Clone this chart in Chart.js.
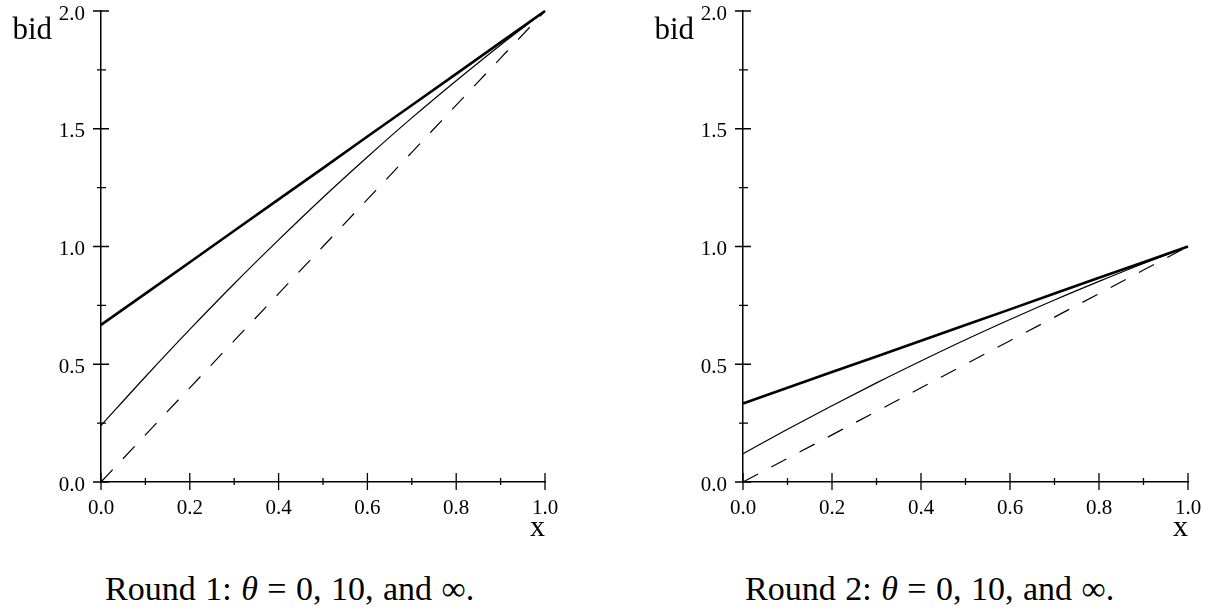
<!DOCTYPE html>
<html>
<head>
<meta charset="utf-8">
<script src="https://cdn.jsdelivr.net/npm/chart.js@4"></script>
<style>
  body { margin: 0; background: #fff; overflow: hidden; width: 1221px; height: 614px; position: relative; }
  canvas { position: absolute; top: 0; }
  .cap { position: absolute; top: 570px; font-family: "Liberation Serif", serif; font-size: 34px; word-spacing: 1px; color: #000; white-space: nowrap; }
</style>
</head>
<body>
<canvas id="round1" width="600" height="560" style="left:0"></canvas>
<canvas id="round2" width="579" height="560" style="left:642px"></canvas>
<div class="cap" style="left:105px">Round 1: <i>θ</i> = 0, 10, and ∞.</div>
<div class="cap" style="left:745px">Round 2: <i>θ</i> = 0, 10, and ∞.</div>
<script>
// values
const xs = [0, 0.1, 0.2, 0.3, 0.4, 0.5, 0.6, 0.7, 0.8, 0.9, 1.0];

// Round 1
const r1Inf = [0.667, 0.8, 0.933, 1.067, 1.2, 1.333, 1.467, 1.6, 1.733, 1.867, 2.0];
const r1Ten = [0.24, 0.447, 0.648, 0.842, 1.028, 1.208, 1.38, 1.546, 1.704, 1.856, 2.0];
const r1Zero = [0, 0.2, 0.4, 0.6, 0.8, 1.0, 1.2, 1.4, 1.6, 1.8, 2.0];

// Round 2
const r2Inf = [0.333, 0.4, 0.467, 0.533, 0.6, 0.667, 0.733, 0.8, 0.867, 0.933, 1.0];
const r2Ten = [0.12, 0.224, 0.324, 0.421, 0.514, 0.604, 0.69, 0.773, 0.852, 0.928, 1.0];
const r2Zero = [0, 0.1, 0.2, 0.3, 0.4, 0.5, 0.6, 0.7, 0.8, 0.9, 1.0];

const xTicks = [0, 0.2, 0.4, 0.6, 0.8, 1.0];
const yTicks = [0, 0.5, 1.0, 1.5, 2.0];
const xTitle = "x";
const yTitle = "bid";

Chart.defaults.font.family = "'Liberation Serif', serif";
Chart.defaults.font.size = 21;
Chart.defaults.color = "#000";

const pts = (ys) => xs.map((x, i) => ({ x: x, y: ys[i] }));

// ticks crossing the axes + the "bid" label
const axisTicks = {
  id: "axisTicks",
  afterDraw(chart) {
    const { ctx, chartArea, scales: { x, y } } = chart;
    const x0 = x.getPixelForValue(0);
    const y0 = y.getPixelForValue(0);
    ctx.save();
    ctx.strokeStyle = "#000";
    ctx.lineWidth = 1.3;
    ctx.beginPath();
    for (let i = 0; i <= 10; i++) {
      const px = x.getPixelForValue(i / 10);
      const major = i % 2 === 0;
      ctx.moveTo(px, y0 - (major ? 9 : 4));
      ctx.lineTo(px, y0 + (major ? 8 : 3));
    }
    for (let i = 0; i <= 8; i++) {
      const py = y.getPixelForValue(i / 4);
      const major = i % 2 === 0;
      ctx.moveTo(x0 - (major ? 8 : 4), py);
      ctx.lineTo(x0 + (major ? 8 : 5), py);
    }
    ctx.stroke();

    ctx.font = "31px 'Liberation Serif'";
    ctx.fillStyle = "#000";
    ctx.textAlign = "right";
    ctx.textBaseline = "alphabetic";
    ctx.fillText(yTitle, chartArea.left - 49, chartArea.top + 28);
    ctx.restore();
  },
};

function makeChart(id, inf, ten, zero, yMax, padRight) {
  return new Chart(document.getElementById(id), {
    type: "line",
    data: {
      datasets: [
        { data: pts(inf), borderColor: "#000", borderWidth: 2.6, pointRadius: 0, clip: false },
        { data: pts(ten), borderColor: "#000", borderWidth: 1.2, pointRadius: 0, cubicInterpolationMode: "monotone", clip: false },
        { data: pts(zero), borderColor: "#000", borderWidth: 1.2, borderDash: [17, 15], pointRadius: 0, clip: false },
      ],
    },
    options: {
      responsive: false,
      animation: false,
      layout: { padding: { top: 11, right: padRight, bottom: 0, left: 0 } },
      plugins: { legend: { display: false }, tooltip: { enabled: false } },
      scales: {
        x: {
          type: "linear",
          min: 0,
          max: 1,
          afterBuildTicks: (s) => { s.ticks = xTicks.map((v) => ({ value: v })); },
          afterFit: (s) => { s.height = 78; s.paddingLeft = 0; s.paddingRight = 0; },
          ticks: { padding: 14, maxRotation: 0, callback: (v) => v.toFixed(1) },
          grid: { display: false, drawTicks: false },
          border: { display: true, color: "#000", width: 1.5 },
          title: { display: true, text: xTitle, align: "end", font: { size: 30 }, padding: { top: 0, bottom: 14 } },
        },
        y: {
          min: 0,
          max: yMax,
          afterBuildTicks: (s) => { s.ticks = yTicks.map((v) => ({ value: v })); },
          afterFit: (s) => { s.width = 101; s.paddingTop = 0; s.paddingBottom = 0; },
          ticks: { padding: 16, labelOffset: 3, callback: (v) => v.toFixed(1) },
          grid: { display: false, drawTicks: false },
          border: { display: true, color: "#000", width: 1.5 },
        },
      },
    },
    plugins: [axisTicks],
  });
}

makeChart("round1", r1Inf, r1Ten, r1Zero, 2, 55);
makeChart("round2", r2Inf, r2Ten, r2Zero, 2, 33);
</script>
</body>
</html>
